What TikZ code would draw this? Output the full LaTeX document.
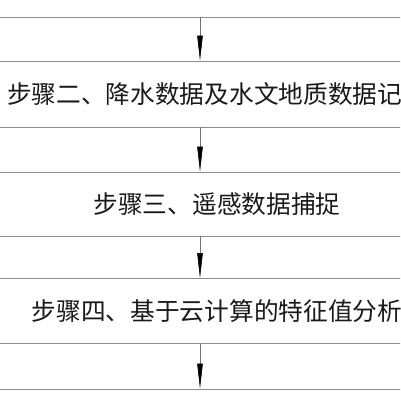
\documentclass[tikz,border=0pt]{standalone}
\usepackage{fontspec}
\newfontfamily\cjk{Noto Sans CJK SC}
\usetikzlibrary{arrows.meta}
\begin{document}
\begin{tikzpicture}[x=1pt,y=-1pt,
  stepbox/.style={draw=black!45, line width=0.8pt, minimum width=500pt, inner sep=0pt,
    font=\cjk\fontsize{24.7}{26}\selectfont, text=black!90},
  flow/.style={draw=black!55, line width=0.6pt, -{Triangle[length=25pt,width=5.5pt,black]}}]
\useasboundingbox (0,0) rectangle (400,407);
\clip (0,0) rectangle (400,407);
\coordinate (ax) at (200,0);
\node[stepbox, minimum height=60pt] (b1) at (217,-13) {};
\node[stepbox, minimum height=66pt] (b2) at (217,94) {步骤二、降水数据及水文地质数据记录};
\node[stepbox, minimum height=64pt] (b3) at (217,204) {步骤三、遥感数据捕捉};
\node[stepbox, minimum height=65pt] (b4) at (217,311) {步骤四、基于云计算的特征值分析};
\node[stepbox, minimum height=60pt] (b5) at (217,419) {};
\draw[flow] (b1.south -| ax) -- (b2.north -| ax);
\draw[flow] (b2.south -| ax) -- (b3.north -| ax);
\draw[flow] (b3.south -| ax) -- (b4.north -| ax);
\draw[flow] (b4.south -| ax) -- (b5.north -| ax);
\end{tikzpicture}
\end{document}
